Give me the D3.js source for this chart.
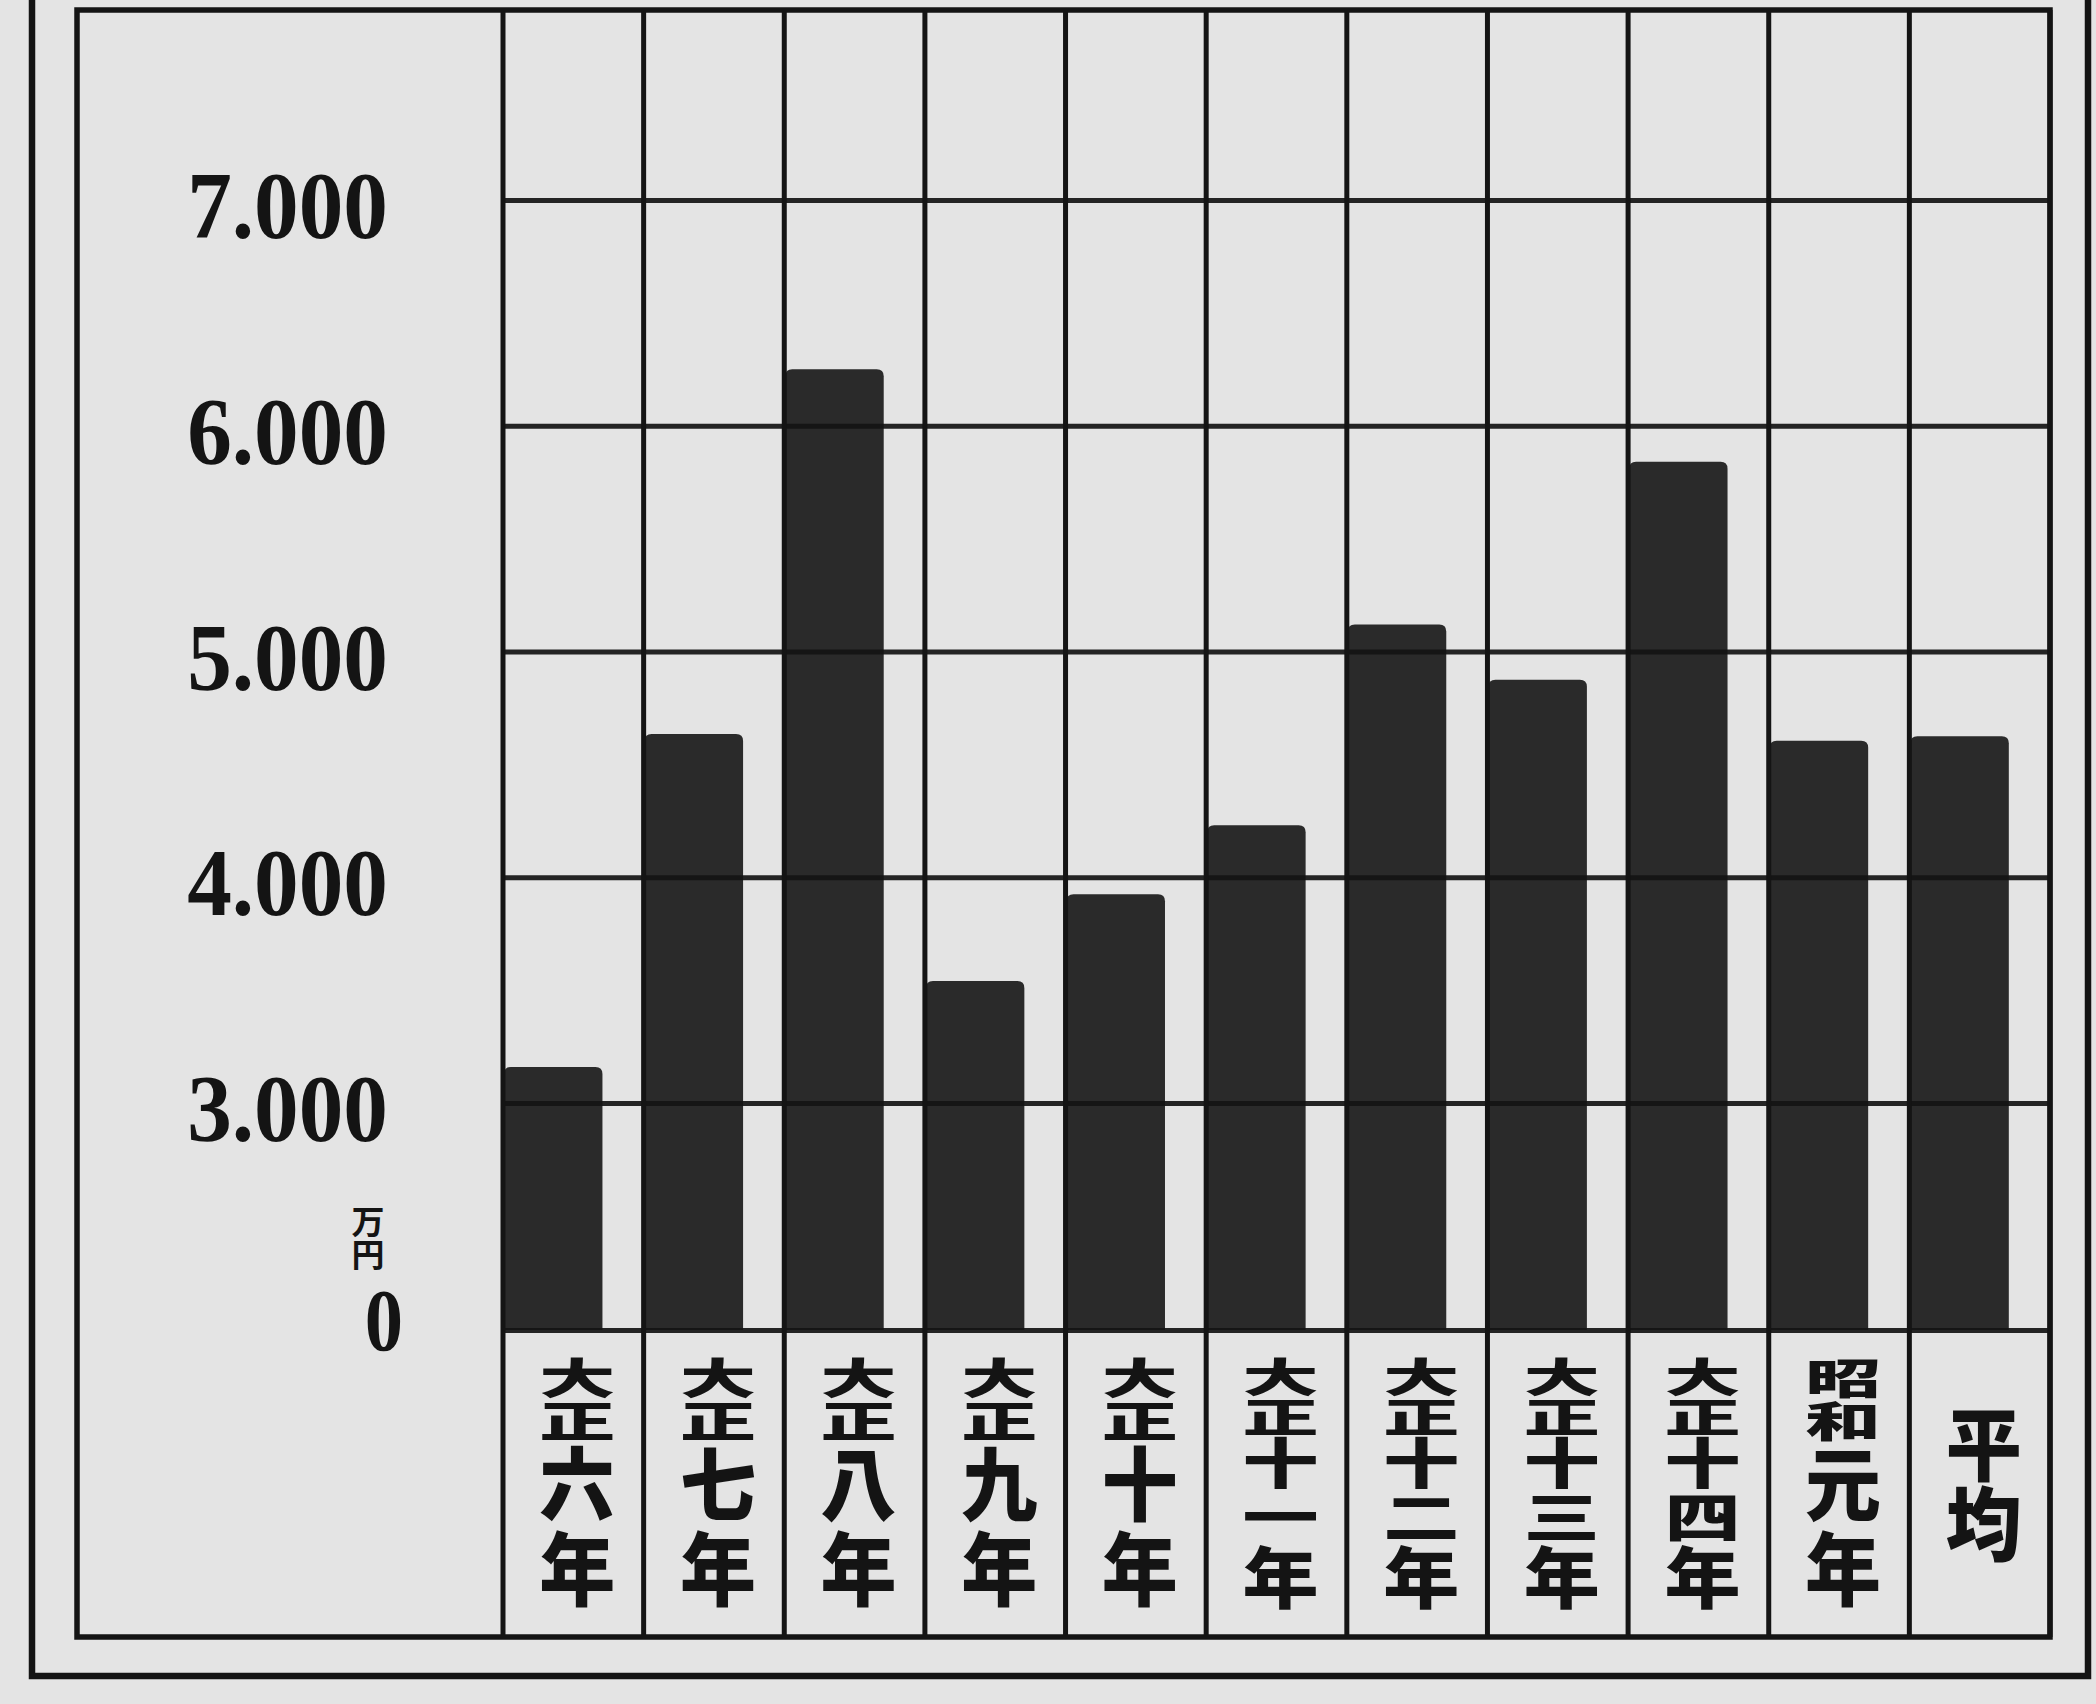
<!DOCTYPE html>
<html>
<head>
<meta charset="utf-8">
<script src="https://cdn.jsdelivr.net/npm/d3@7"></script>
<style>
html,body{margin:0;padding:0;background:#e4e4e4;}
svg{display:block;}
</style>
</head>
<body>
<svg id="chart" width="2096" height="1704"></svg>
<script>
// ---------------- data ----------------
const categories = ["大正六年","大正七年","大正八年","大正九年","大正十年","大正十一年","大正十二年","大正十三年","大正十四年","昭和元年","平均"];
const values = [3160, 4635, 6250, 3540, 3925, 4230, 5120, 4875, 5840, 4605, 4625];
const tickValues = [3000, 4000, 5000, 6000, 7000];
const tickLabels = ["3.000", "4.000", "5.000", "6.000", "7.000"];
const zeroLabel = "0";
const unitLabel = "万円";
const eraNames = ["大正", "昭和"];

// ---------------- layout ----------------
const W = 2096, H = 1704;
const ink = "#141414", paper = "#e4e4e4", barFill = "#2a2a2a";
const frame = {outerL: 32, outerR: 2088, outerB: 1676, innerL: 77, innerT: 10, innerR: 2050, innerB: 1637};
const plot = {left: 503, right: 2050, top: 10};
const labelBox = {top: 1357, bottom: 1611};

const svg = d3.select("#chart");
svg.append("rect").attr("width", W).attr("height", H).attr("fill", paper);

const x = d3.scaleBand().domain(categories).range([plot.left, plot.right]).padding(0);
// broken axis: 0 .. 3000 compressed into one grid step
const y = d3.scaleLinear().domain([0, 3000, 8000]).range([1330, 1103, 1103 - 5 * 225.75]);

// ---------------- bars ----------------
const barW = x.bandwidth() * 0.70;
const r = 7;
function barPath(d, i) {
  const x0 = x(categories[i]) + 1, x1 = x0 + barW;
  const y0 = y(0), y1 = y(d);
  const p = d3.path();
  p.moveTo(x0, y0);
  p.lineTo(x0, y1 + r);
  p.quadraticCurveTo(x0, y1, x0 + r, y1);
  p.lineTo(x1 - r, y1);
  p.quadraticCurveTo(x1, y1, x1, y1 + r);
  p.lineTo(x1, y0);
  p.closePath();
  return p.toString();
}
svg.append("g").selectAll("path").data(values).join("path")
  .attr("d", barPath)
  .attr("fill", barFill);

// ---------------- grid ----------------
const grid = svg.append("g")
  .attr("transform", `translate(${plot.left},0)`)
  .call(d3.axisLeft(y).tickValues(tickValues.concat([0])).tickSize(-(plot.right - plot.left)).tickFormat(""));
grid.select(".domain").remove();
grid.selectAll(".tick line").attr("stroke", ink).attr("stroke-width", 5).attr("stroke-opacity", 0.92);

// vertical column lines
const edges = categories.map(c => x(c)).concat([plot.right]);
svg.append("g").selectAll("line").data(edges).join("line")
  .attr("x1", d => d).attr("x2", d => d)
  .attr("y1", frame.innerT).attr("y2", frame.innerB)
  .attr("stroke", ink).attr("stroke-width", 5);

// ---------------- frames ----------------
const fr = svg.append("g").attr("fill", "none").attr("stroke", ink).attr("stroke-width", 5.5);
fr.append("path").attr("d", `M${frame.innerL},${frame.innerB} L${frame.innerL},${frame.innerT} L${frame.innerR},${frame.innerT} L${frame.innerR},${frame.innerB} Z`);
fr.append("path").attr("d", `M${frame.outerL},-10 L${frame.outerL},${frame.outerB} L${frame.outerR},${frame.outerB} L${frame.outerR},-10`).attr("stroke-width", 6.5);

// ---------------- y tick labels ----------------
const yl = svg.append("g").attr("fill", ink)
  .style("font-family", "'Liberation Serif', 'DejaVu Serif', serif")
  .style("font-weight", "bold").style("font-size", "96px");
yl.selectAll("text").data(tickValues).join("text")
  .attr("transform", d => `translate(388,${y(d) + 38}) scale(0.93,1)`)
  .attr("text-anchor", "end")
  .text((d, i) => tickLabels[i]);

// zero label
yl.append("text")
  .attr("transform", `translate(403,${y(0) + 20}) scale(0.86,1)`)
  .attr("text-anchor", "end")
  .style("font-size", "89px")
  .text(zeroLabel);

// unit (vertical, small)
svg.append("text")
  .attr("transform", `translate(368,${y(0) - 125})`)
  .attr("writing-mode", "vertical-rl")
  .attr("fill", ink)
  .style("font-family", "'Noto Sans CJK JP', sans-serif")
  .style("font-weight", "bold").style("font-size", "33px")
  .text(unitLabel);

// ---------------- category labels (vertical) ----------------
const F = 80;

function splitCells(label) {
  for (const era of eraNames) {
    if (label.startsWith(era)) return [era].concat(Array.from(label.slice(era.length)));
  }
  return Array.from(label);
}

const cl = svg.append("g").attr("fill", ink)
  .style("font-family", "'Noto Sans CJK JP', sans-serif")
  .style("font-weight", 900).style("font-size", F + "px");

categories.forEach(c => {
  const cells = splitCells(c);
  const n = cells.length;
  const cx = x(c) + x.bandwidth() / 2 + 4;
  const total = labelBox.bottom - labelBox.top;
  let heights;
  if (n <= 2) {
    heights = cells.map(() => 80);
  } else if (n === 4) {
    const w = [1.25, 0.85, 0.85, 1.05];
    const s = d3.sum(w);
    heights = w.map(v => v / s * total);
  } else {
    heights = cells.map(() => total / n);
  }
  let top = (labelBox.top + labelBox.bottom) / 2 - d3.sum(heights) / 2;
  cells.forEach((cell, k) => {
    const h = heights[k];
    const g = Array.from(cell).length;
    const sy = Math.min(h / (F * g), g > 1 ? 1 : 1.0);
    const off = (h - sy * F * g) / 2;
    cl.append("text")
      .attr("transform", `translate(${cx},${top + off}) scale(0.95,${sy})`)
      .attr("writing-mode", "vertical-rl")
      .text(cell);
    top += h;
  });
});
</script>
</body>
</html>
